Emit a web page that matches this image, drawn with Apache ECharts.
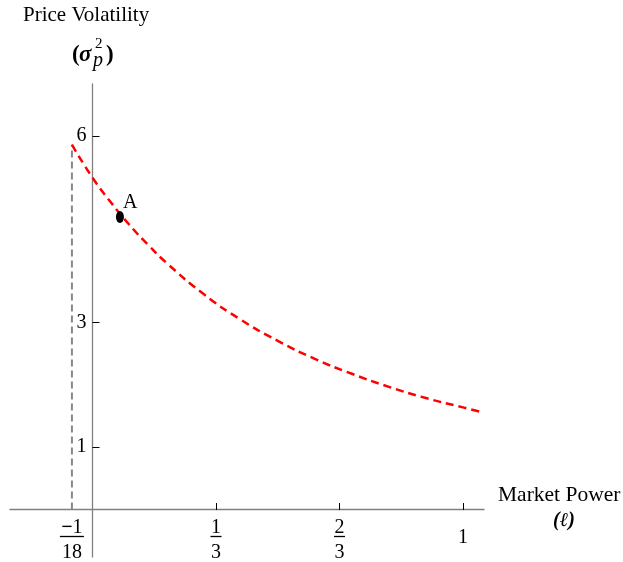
<!DOCTYPE html>
<html>
<head>
<meta charset="utf-8">
<script src="https://cdn.jsdelivr.net/npm/echarts@6/dist/echarts.min.js"></script>
<style>
  html, body { margin: 0; padding: 0; background: #fff; }
  #chart { width: 623px; height: 562px; }
</style>
</head>
<body>
<div id="chart"></div>
<script>
// market power (l) and price volatility
const marketPower = [-1 / 18, 0, 0.05, 0.1, 0.15, 0.2, 0.3, 0.4, 0.5, 0.6, 0.7, 0.8, 0.9, 1.0, 1.054];
const volatility = [5.86, 5.33, 4.93, 4.57, 4.25, 3.96, 3.46, 3.05, 2.71, 2.42, 2.18, 1.97, 1.79, 1.64, 1.56];
const boundX = -1 / 18;
const boundTop = 5.86;
const pointA = [0.074, 4.70];
const xTickValues = [1 / 3, 2 / 3, 1];
const xLabelValues = [-1 / 18, 1 / 3, 2 / 3, 1];
const yTickValues = [1, 3, 6];

const FONT = "Liberation Serif";
const X_MIN = -0.2227, X_MAX = 1.0567;
const Y_MIN = -0.763, Y_MAX = 6.835;

const curveData = marketPower.map((x, i) => [x, volatility[i]]);

const fracLabel = (v) => {
  if (Math.abs(v + 1 / 18) < 1e-6) return "{mb|−}{n|1}\n{barw| }\n{d|18}";
  if (Math.abs(v - 1 / 3) < 1e-6) return "{n|1}\n{bar| }\n{d|3}";
  if (Math.abs(v - 2 / 3) < 1e-6) return "{n|2}\n{bar| }\n{d|3}";
  if (Math.abs(v - 1) < 1e-6) return "{one|1}";
  return "";
};

const axisGray = { color: "#808080", width: 1.3 };
const hidden = { show: false };

const chart = echarts.init(document.getElementById("chart"));
const option = {
  animation: false,
  grid: [
    // plot area, axes cross at zero
    { left: 10, right: 139, top: 84, bottom: 5, outerBoundsMode: "none", containLabel: false },
    // x labels sit under the zero line
    { left: 10, right: 139, top: 84, bottom: 52, outerBoundsMode: "none", containLabel: false },
    // y labels sit left of the zero line
    { left: 92.5, right: 139, top: 84, bottom: 5, outerBoundsMode: "none", containLabel: false },
  ],
  xAxis: [
    {
      gridIndex: 0, type: "value", min: X_MIN, max: X_MAX,
      axisLine: { onZero: true, lineStyle: axisGray },
      axisTick: hidden, axisLabel: hidden, splitLine: hidden,
    },
    {
      gridIndex: 1, type: "value", min: X_MIN, max: X_MAX,
      axisLine: hidden,
      axisTick: {
        show: true, inside: true, length: 7,
        customValues: xTickValues,
        lineStyle: { color: "#000", width: 1 },
      },
      axisLabel: {
        customValues: xLabelValues,
        margin: 11,
        fontFamily: FONT,
        fontSize: 20,
        color: "#000",
        formatter: fracLabel,
        rich: {
          n: { fontFamily: FONT, fontSize: 20, lineHeight: 14, color: "#000" },
          mb: { fontFamily: FONT, fontSize: 20, fontWeight: "bold", lineHeight: 14, color: "#000" },
          bar: { width: 11, height: 1.3, lineHeight: 3, backgroundColor: "#000", fontSize: 1 },
          barw: { width: 24, height: 1.3, lineHeight: 3, backgroundColor: "#000", fontSize: 1 },
          d: { fontFamily: FONT, fontSize: 20, lineHeight: 30, color: "#000" },
          one: { fontFamily: FONT, fontSize: 20, lineHeight: 34, color: "#000" },
        },
      },
      splitLine: hidden,
    },
    { gridIndex: 2, type: "value", min: 0, max: 1, show: false },
  ],
  yAxis: [
    {
      gridIndex: 0, type: "value", min: Y_MIN, max: Y_MAX,
      axisLine: { onZero: true, lineStyle: axisGray },
      axisTick: hidden, axisLabel: hidden, splitLine: hidden,
    },
    { gridIndex: 1, type: "value", min: 0, max: 1, show: false },
    {
      gridIndex: 2, type: "value", min: Y_MIN, max: Y_MAX,
      axisLine: hidden,
      axisTick: {
        show: true, inside: true, length: 7,
        customValues: yTickValues,
        lineStyle: { color: "#000", width: 1 },
      },
      axisLabel: {
        customValues: yTickValues,
        margin: 6,
        fontFamily: FONT,
        fontSize: 20,
        color: "#000",
      },
      splitLine: hidden,
    },
  ],
  series: [
    {
      name: "bound",
      type: "line",
      xAxisIndex: 0, yAxisIndex: 0,
      data: [[boundX, 0], [boundX, boundTop]],
      symbol: "none",
      lineStyle: { color: "#888", width: 2, type: [7, 4] },
      z: 2,
    },
    {
      name: "volatility",
      type: "line",
      xAxisIndex: 0, yAxisIndex: 0,
      data: curveData,
      smooth: true,
      symbol: "none",
      lineStyle: { color: "#ff0000", width: 2.5, type: [8, 5] },
      z: 3,
    },
    {
      name: "A",
      type: "scatter",
      xAxisIndex: 0, yAxisIndex: 0,
      data: [pointA],
      symbol: "circle",
      symbolSize: [8, 12],
      itemStyle: { color: "#000", opacity: 1 },
      label: {
        show: true,
        formatter: "A",
        position: [7, -18],
        fontFamily: FONT,
        fontSize: 20,
        color: "#000",
      },
      z: 4,
    },
  ],
  graphic: [
    { type: "text", left: 23, top: 5, style: { text: "Price Volatility", font: "21px " + FONT, fill: "#000" } },
    { type: "text", left: 72, top: 44, style: { text: "(", font: "bold 23px " + FONT, fill: "#000" } },
    { type: "text", left: 79, top: 44, style: { text: "σ", font: "italic bold 23px " + FONT, fill: "#000" } },
    { type: "text", left: 95, top: 37, style: { text: "2", font: "15px " + FONT, fill: "#000" } },
    { type: "text", left: 93, top: 51, style: { text: "p", font: "italic 20px " + FONT, fill: "#000" } },
    { type: "text", left: 106, top: 44, style: { text: ")", font: "bold 23px " + FONT, fill: "#000" } },
    { type: "text", left: 498, top: 484, style: { text: "Market Power", font: "21.5px " + FONT, fill: "#000" } },
    { type: "text", left: 553, top: 511, style: { text: "(ℓ)", font: "italic bold 20px " + FONT, fill: "#000" } },
  ],
};
chart.setOption(option);
</script>
</body>
</html>
